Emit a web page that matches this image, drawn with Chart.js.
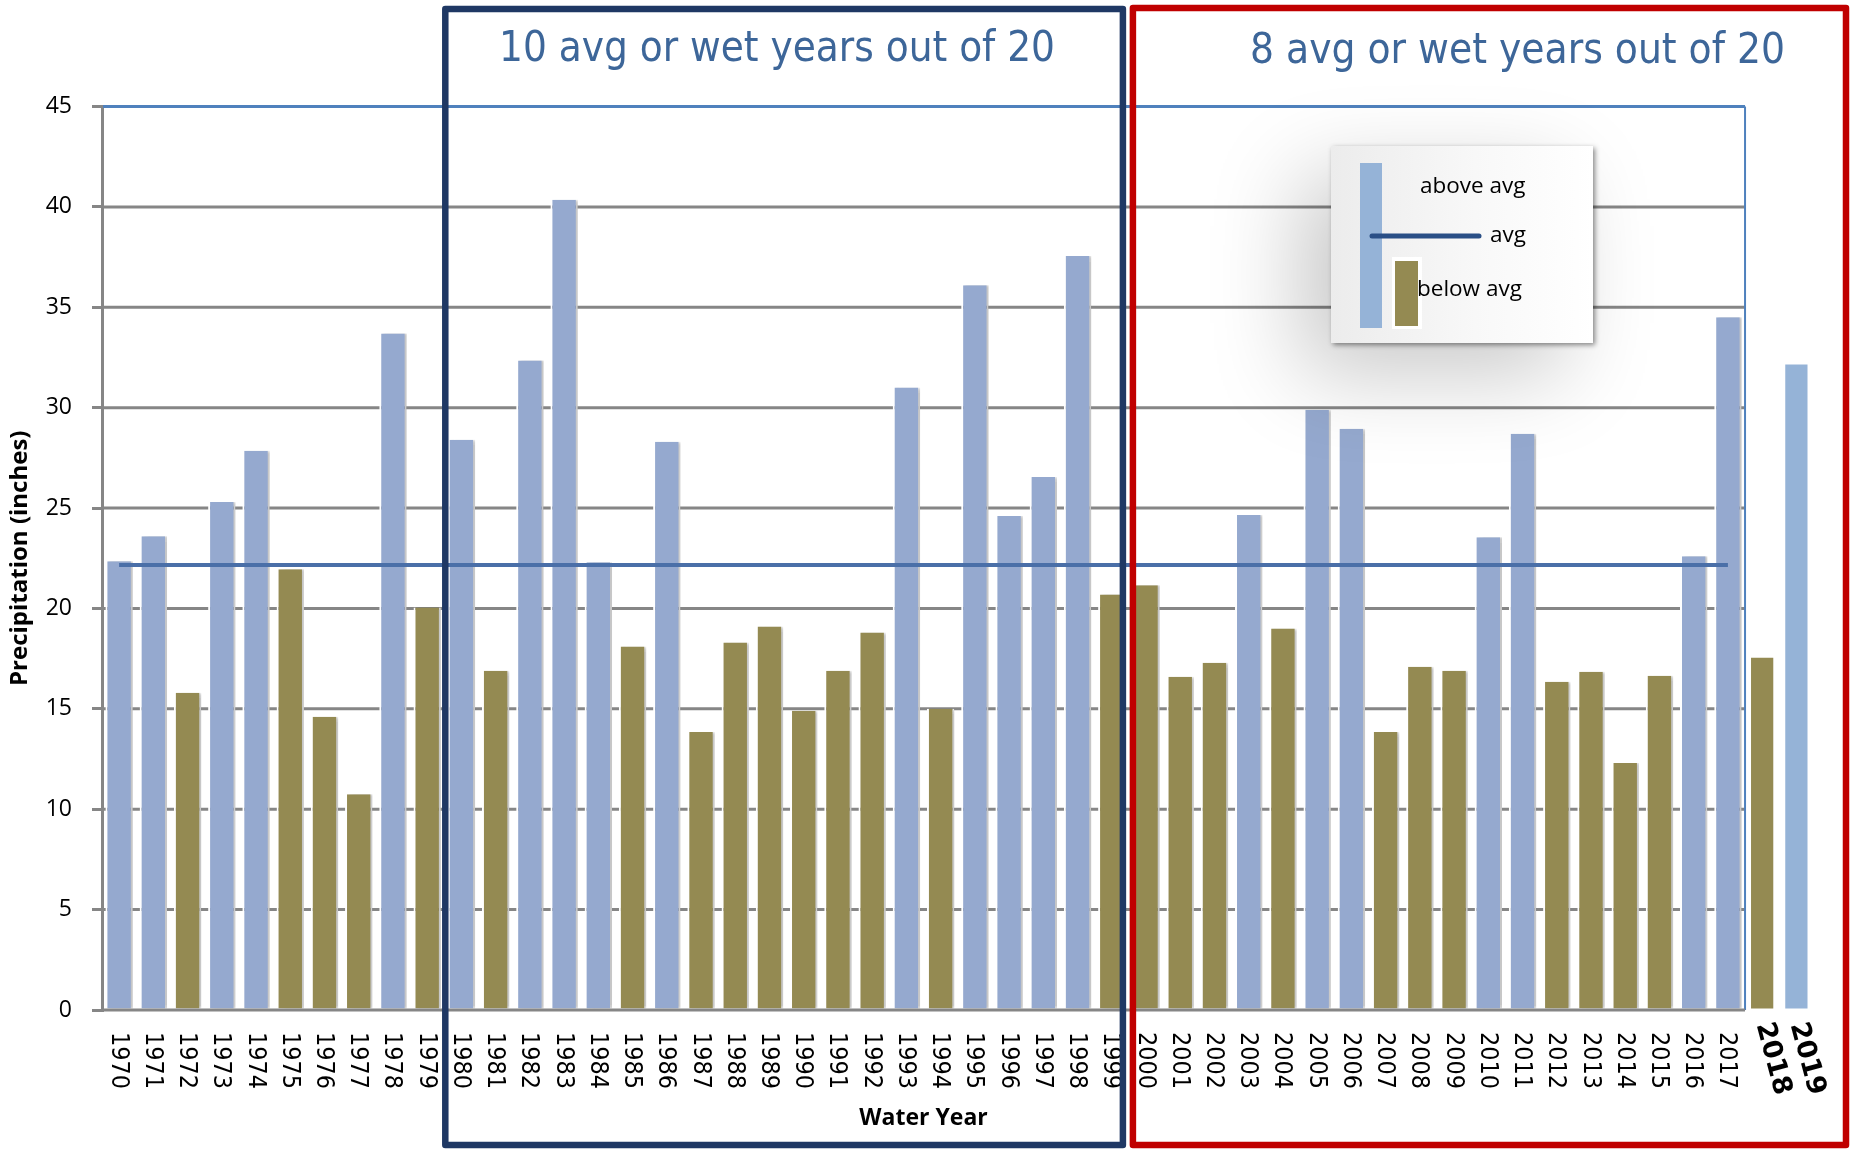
<!DOCTYPE html>
<html>
<head>
<meta charset="utf-8">
<title>Water Year Precipitation</title>
<script src="https://cdn.jsdelivr.net/npm/chart.js@4.4.1/dist/chart.umd.min.js"></script>
<style>
  html, body { margin: 0; padding: 0; background: #fff; }
  canvas { display: block; }
</style>
</head>
<body>
<canvas id="precipChart" width="1854" height="1153"></canvas>
<script>
// Water year precipitation (inches), 1970-2017 record plus 2018 and 2019
const histYears = [
  '1970', '1971', '1972', '1973', '1974', '1975', '1976', '1977', '1978', '1979',
  '1980', '1981', '1982', '1983', '1984', '1985', '1986', '1987', '1988', '1989',
  '1990', '1991', '1992', '1993', '1994', '1995', '1996', '1997', '1998', '1999',
  '2000', '2001', '2002', '2003', '2004', '2005', '2006', '2007', '2008', '2009',
  '2010', '2011', '2012', '2013', '2014', '2015', '2016', '2017'
];
const histPrecip = [
  22.35, 23.6, 15.8, 25.3, 27.85, 21.95, 14.6, 10.75, 33.7, 20.05,
  28.4, 16.9, 32.35, 40.35, 22.3, 18.1, 28.3, 13.85, 18.3, 19.1,
  14.9, 16.9, 18.8, 31.0, 15.0, 36.1, 24.6, 26.55, 37.55, 20.7,
  21.15, 16.6, 17.3, 24.65, 19.0, 29.9, 28.95, 13.85, 17.1, 16.9,
  23.55, 28.7, 16.35, 16.85, 12.3, 16.65, 22.6, 34.5
];
const recentYears = ['2018', '2019'];
const recentPrecip = [17.55, 32.15];
const AVG = 22.17;

const leftTitle = '10 avg or wet years out of 20';
const rightTitle = '8 avg or wet years out of 20';
const legendLabels = ['above avg', 'avg', 'below avg'];

const ABOVE = '#95a9cf';
const BELOW = '#948a52';
const RECENT_COLORS = [BELOW, '#95b3d7'];
const GRID = '#868686';
const FRAME = '#4f81bd';

// pixel of the left edge of category i
function catEdge(x, i) {
  const w = x.getPixelForValue(1) - x.getPixelForValue(0);
  return x.getPixelForValue(i) - w / 2;
}

// gridlines and the blue frame only cover the 1970-2017 record
const frameGrid = {
  id: 'frameGrid',
  beforeDatasetsDraw(chart) {
    const { ctx, chartArea, scales: { x, y } } = chart;
    const right = catEdge(x, histYears.length);
    ctx.save();
    y.ticks.forEach(t => {
      if (t.value === 0) return;
      const py = y.getPixelForValue(t.value);
      ctx.strokeStyle = t.value === 45 ? FRAME : GRID;
      ctx.lineWidth = 3;
      ctx.beginPath();
      ctx.moveTo(chartArea.left + 1, py);
      ctx.lineTo(right, py);
      ctx.stroke();
    });
    ctx.strokeStyle = FRAME;
    ctx.lineWidth = 2;
    ctx.beginPath();
    ctx.moveTo(right, y.getPixelForValue(45));
    ctx.lineTo(right, y.getPixelForValue(0));
    ctx.stroke();
    ctx.restore();
  },
  afterDatasetsDraw(chart) {
    const { ctx, chartArea, scales: { x, y } } = chart;
    const py = y.getPixelForValue(0);
    ctx.save();
    ctx.strokeStyle = GRID;
    ctx.lineWidth = 3;
    ctx.beginPath();
    ctx.moveTo(chartArea.left, py);
    ctx.lineTo(catEdge(x, histYears.length), py);
    ctx.stroke();
    ctx.restore();
  }
};

// soft shadow to the right of the record bars
const barShadow = {
  id: 'barShadow',
  beforeDatasetDraw(chart, args) {
    if (!chart.data.datasets[args.index].shadow) return;
    const ctx = chart.ctx;
    ctx.save();
    ctx.shadowColor = 'rgba(0,0,0,0.22)';
    ctx.shadowBlur = 3;
    ctx.shadowOffsetX = 4;
  },
  afterDatasetDraw(chart, args) {
    if (!chart.data.datasets[args.index].shadow) return;
    chart.ctx.restore();
  }
};

function fitText(ctx, text, x, y, width) {
  const w = ctx.measureText(text).width;
  ctx.save();
  ctx.translate(x, y);
  ctx.scale(width / w, 1);
  ctx.fillText(text, 0, 0);
  ctx.restore();
}

const decorations = {
  id: 'decorations',
  afterDraw(chart) {
    const { ctx, chartArea, scales: { x, y } } = chart;

    // year labels, turned clockwise
    const top = y.getPixelForValue(0) + 22;
    ctx.save();
    ctx.fillStyle = '#000';
    ctx.textBaseline = 'middle';
    ctx.textAlign = 'left';
    chart.data.labels.forEach((label, i) => {
      const px = x.getPixelForValue(i);
      const recent = i >= histYears.length;
      ctx.save();
      ctx.font = recent ? "bold 27px 'DejaVu Sans'" : "25px 'DejaVu Sans Condensed', 'DejaVu Sans'";
      const w = ctx.measureText(label).width;
      ctx.translate(recent ? px + 1 : px - 1, recent ? top - 9 : top);
      ctx.rotate((recent ? 75 : 90) * Math.PI / 180);
      ctx.scale((recent ? 74 : 57) / w, 1);
      ctx.fillText(label, 0, 0);
      ctx.restore();
    });
    ctx.restore();

    // x axis title, centred under the record frame
    ctx.save();
    ctx.fillStyle = '#000';
    ctx.font = "bold 23px 'Open Sans'";
    ctx.textAlign = 'center';
    ctx.textBaseline = 'middle';
    ctx.fillText('Water Year', (chartArea.left + catEdge(x, histYears.length)) / 2, 1118);
    ctx.restore();

    // legend
    const bx = 1331, by = 146, bw = 262, bh = 197;
    ctx.save();
    ctx.shadowColor = 'rgba(0,0,0,0.22)';
    ctx.shadowBlur = 90;
    ctx.shadowOffsetX = -30;
    ctx.shadowOffsetY = 30;
    ctx.fillStyle = '#fff';
    ctx.fillRect(bx, by, bw, bh);
    ctx.restore();
    ctx.save();
    ctx.shadowColor = 'rgba(0,0,0,0.45)';
    ctx.shadowBlur = 5;
    ctx.shadowOffsetX = 2;
    ctx.shadowOffsetY = 2;
    const g = ctx.createLinearGradient(bx, 0, bx + bw, 0);
    g.addColorStop(0, '#ececec');
    g.addColorStop(0.55, '#f8f8f8');
    g.addColorStop(1, '#ffffff');
    ctx.fillStyle = g;
    ctx.fillRect(bx, by, bw, bh);
    ctx.restore();

    ctx.save();
    ctx.fillStyle = RECENT_COLORS[1];
    ctx.fillRect(1360, 163, 22, 165);
    ctx.fillStyle = '#fff';
    ctx.fillRect(1392, 257, 30, 72);
    ctx.fillStyle = BELOW;
    ctx.fillRect(1395, 261, 23, 65);
    ctx.strokeStyle = '#2a4f86';
    ctx.lineWidth = 5;
    ctx.lineCap = 'round';
    ctx.beginPath();
    ctx.moveTo(1372, 236);
    ctx.lineTo(1479, 236);
    ctx.stroke();
    ctx.fillStyle = '#000';
    ctx.font = "22.5px 'Open Sans'";
    ctx.textBaseline = 'middle';
    ctx.textAlign = 'left';
    ctx.fillText(legendLabels[0], 1420, 187);
    ctx.fillText(legendLabels[1], 1490, 236);
    ctx.fillText(legendLabels[2], 1417, 290);
    ctx.restore();

    // period boxes
    ctx.save();
    ctx.lineWidth = 6.5;
    ctx.lineJoin = 'round';
    const split = catEdge(x, 30);
    ctx.strokeStyle = '#1f3864';
    ctx.strokeRect(catEdge(x, 10) + 1, 9, split - 6 - catEdge(x, 10) - 1, 1136);
    ctx.strokeStyle = '#c00000';
    ctx.strokeRect(split + 4, 8, 1846 - split - 4, 1137);
    ctx.restore();

    // period titles
    ctx.save();
    ctx.fillStyle = '#3d6699';
    ctx.font = "42px 'DejaVu Sans Condensed', 'DejaVu Sans'";
    ctx.textAlign = 'left';
    ctx.textBaseline = 'alphabetic';
    fitText(ctx, leftTitle, 499, 61, 556);
    fitText(ctx, rightTitle, 1250, 63, 535);
    ctx.restore();
  }
};

const ctx = document.getElementById('precipChart').getContext('2d');

new Chart(ctx, {
  type: 'bar',
  data: {
    labels: histYears.concat(recentYears),
    datasets: [
      {
        type: 'line',
        label: 'avg',
        data: [
          { x: histYears[0], y: AVG },
          { x: histYears[histYears.length - 1], y: AVG }
        ],
        borderColor: '#4a6fa8',
        borderWidth: 4,
        pointRadius: 0,
        fill: false,
        order: 0
      },
      {
        label: 'precipitation',
        data: histPrecip,
        backgroundColor: histPrecip.map(v => v >= AVG ? ABOVE : BELOW),
        borderColor: '#ffffff',
        borderWidth: { top: 0, left: 2, right: 2, bottom: 0 },
        barPercentage: 0.8,
        categoryPercentage: 1,
        grouped: false,
        shadow: true,
        order: 1
      },
      {
        label: 'recent',
        data: recentYears.map((yr, i) => ({ x: yr, y: recentPrecip[i] })),
        backgroundColor: RECENT_COLORS,
        borderWidth: 0,
        barPercentage: 0.65,
        categoryPercentage: 1,
        grouped: false,
        order: 2
      }
    ]
  },
  options: {
    responsive: false,
    animation: false,
    layout: { padding: { top: 106.5, right: 40.5, bottom: 143, left: 0 } },
    plugins: {
      legend: { display: false },
      tooltip: { enabled: false },
      title: { display: false }
    },
    scales: {
      x: { display: false, offset: true },
      y: {
        min: 0,
        max: 45,
        ticks: {
          stepSize: 5,
          color: '#000',
          padding: 20,
          font: { family: "'Open Sans'", size: 23 }
        },
        grid: { drawOnChartArea: false, drawTicks: true, tickLength: 10, color: GRID, lineWidth: 3 },
        border: { display: true, color: GRID, width: 3 },
        title: {
          display: true,
          text: 'Precipitation (inches)',
          color: '#000',
          font: { family: "'Open Sans'", size: 24, weight: 'bold' },
          padding: { top: 6, bottom: 0 }
        },
        afterFit(scale) { scale.width = 102; }
      }
    }
  },
  plugins: [frameGrid, barShadow, decorations]
});
</script>
</body>
</html>
